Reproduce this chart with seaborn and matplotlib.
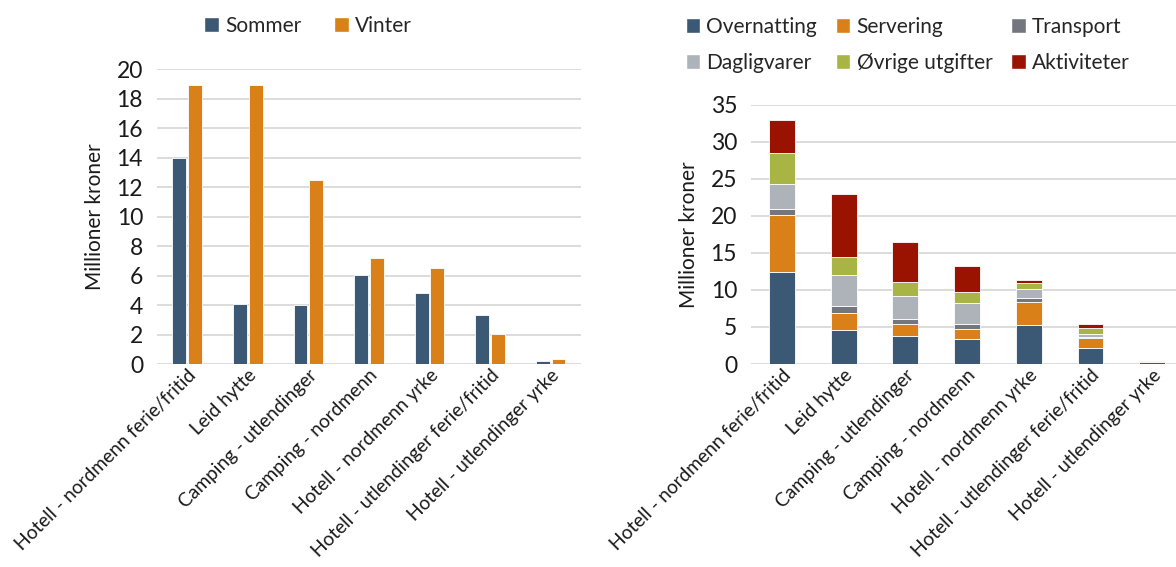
import matplotlib
matplotlib.use("Agg")
import matplotlib.pyplot as plt
import seaborn as sns
import pandas as pd
import numpy as np
from matplotlib.patches import Patch

categories = [
    "Hotell - nordmenn ferie/fritid",
    "Leid hytte",
    "Camping - utlendinger",
    "Camping - nordmenn",
    "Hotell - nordmenn yrke",
    "Hotell - utlendinger ferie/fritid",
    "Hotell - utlendinger yrke",
]

# Season totals (millioner kroner)
sommer = [14.0, 4.05, 4.0, 6.05, 4.8, 3.3, 0.2]
vinter = [18.9, 18.9, 12.5, 7.2, 6.5, 2.05, 0.35]

# Spending by type (millioner kroner)
overnatting = [12.4, 4.6, 3.75, 3.35, 5.3, 2.2, 0.3]
servering = [7.7, 2.3, 1.7, 1.4, 3.1, 1.25, 0.08]
transport = [0.85, 1.0, 0.65, 0.6, 0.5, 0.15, 0.04]
dagligvarer = [3.35, 4.1, 3.15, 2.85, 1.2, 0.5, 0.05]
ovrige = [4.15, 2.4, 1.8, 1.55, 0.85, 0.7, 0.04]
aktiviteter = [4.5, 8.5, 5.45, 3.45, 0.35, 0.55, 0.09]

season_names = ["Sommer", "Vinter"]
type_names = ["Overnatting", "Servering", "Transport",
              "Dagligvarer", "Øvrige utgifter", "Aktiviteter"]

c_blue = "#3B5875"
c_orange = "#D98019"
type_colors = [c_blue, c_orange, "#73777D", "#AEB3B9", "#A8B443", "#9A1200"]

sns.set_theme(style="white")
plt.rcParams["font.family"] = ["Lato", "DejaVu Sans"]
text_color = "#1a1a1a"
grid_color = "#D9D9D9"

fig = plt.figure(figsize=(11.76, 5.67), dpi=100)
ax1 = fig.add_axes([0.1335, 0.358, 0.3605, 0.52])
ax2 = fig.add_axes([0.6386, 0.358, 0.3674, 0.457])

# Left: grouped bars per season
season_df = pd.DataFrame({
    "kategori": categories * 2,
    "sesong": [season_names[0]] * len(categories) + [season_names[1]] * len(categories),
    "verdi": sommer + vinter,
})
sns.barplot(data=season_df, x="kategori", y="verdi", hue="sesong",
            order=categories, hue_order=season_names,
            palette=[c_blue, c_orange], width=0.52, gap=0.12,
            saturation=1, errorbar=None, legend=False, ax=ax1, zorder=3,
            edgecolor="white", linewidth=0.6)
ax1.set_ylim(0, 20)
ax1.set_yticks(range(0, 21, 2))

# Right: stacked bars per spending type
series = [overnatting, servering, transport, dagligvarer, ovrige, aktiviteter]
bottom = np.zeros(len(categories))
for name, vals, col in zip(type_names, series, type_colors):
    layer = pd.DataFrame({"kategori": categories, "verdi": vals})
    sns.barplot(data=layer, x="kategori", y="verdi", order=categories,
                color=col, saturation=1, width=0.42, errorbar=None,
                bottom=bottom, ax=ax2, zorder=3,
                edgecolor="white", linewidth=0.6)
    bottom = bottom + np.array(vals)
ax2.set_ylim(0, 35)
ax2.set_yticks(range(0, 36, 5))

for ax in (ax1, ax2):
    for s in ax.spines.values():
        s.set_visible(False)
    ax.yaxis.grid(True, color=grid_color, linewidth=1.3, zorder=0)
    ax.set_axisbelow(True)
    ax.tick_params(axis="both", length=0, colors=text_color)
    ax.tick_params(axis="y", pad=10, labelsize=16.5)
    ax.tick_params(axis="x", pad=2)
    ax.set_xlabel("")
    ax.set_ylabel("Millioner kroner", fontsize=15, color=text_color, labelpad=8)
    ax.set_xticks(range(len(categories)))
    ax.set_xticklabels(categories, rotation=45, ha="right",
                       rotation_mode="anchor", fontsize=13.8)
    ax.set_xlim(-0.5, len(categories) - 0.5)

leg1 = [Patch(facecolor=c, label=n) for n, c in zip(season_names, [c_blue, c_orange])]
fig.legend(handles=leg1, loc="center", bbox_to_anchor=(0.262, 0.955),
           ncol=2, frameon=False, fontsize=15, handlelength=0.7,
           handleheight=0.7, handletextpad=0.3, columnspacing=1.6)

# Row-major ordering for a 3-column, 2-row legend
handles = [Patch(facecolor=c, label=n) for n, c in zip(type_names, type_colors)]
order = [0, 3, 1, 4, 2, 5]
fig.legend(handles=[handles[i] for i in order], loc="upper left",
           bbox_to_anchor=(0.567, 1.003), ncol=3, frameon=False, fontsize=15,
           handlelength=0.7, handleheight=0.7, handletextpad=0.3,
           columnspacing=0.9, labelspacing=0.75)

fig.savefig("out.png", dpi=100, facecolor="white")
